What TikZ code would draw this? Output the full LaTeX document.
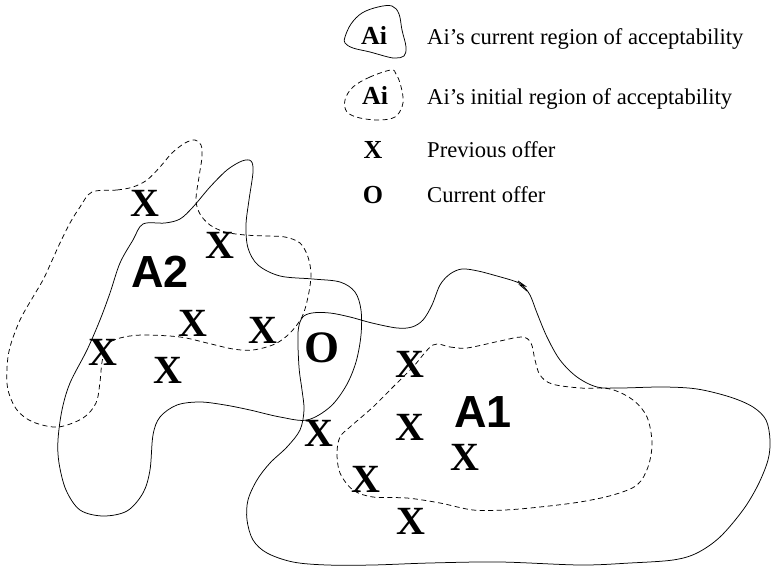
\documentclass[tikz,border=0pt]{standalone}
\usepackage{fontspec}
\setmainfont{Liberation Serif}
\newfontfamily\helv{Liberation Sans}
\begin{document}
\begin{tikzpicture}[x=1pt,y=-1pt,
  region/.style={line width=0.75pt, line join=round},
  initial/.style={region, dash pattern=on 5pt off 3.5pt},
  offer/.style={inner sep=0pt, font=\fontsize{40}{42}\selectfont\bfseries},
  curoffer/.style={inner sep=0pt, font=\fontsize{45}{47}\selectfont\bfseries},
  agent/.style={inner sep=0pt, font=\fontsize{45}{47}\selectfont\helv\bfseries},
  legsym/.style={inner sep=0pt, anchor=base, font=\fontsize{26}{28}\selectfont\bfseries},
  legtext/.style={inner sep=0pt, anchor=base west, font=\fontsize{22.6}{24}\selectfont}]
\useasboundingbox (0,0) rectangle (772,567);

% ---------- legend ----------
\draw[region] plot[smooth cycle, tension=0.6] coordinates {
  (345,37) (351,24) (362,13) (378,7) (392,6) (399,14) (402,30) (406,47)
  (404,56) (396,58) (388,57) (370,52) (353,48) (345,43)};
\node[legsym] (legcur) at (374,45) {Ai};
\node[legtext] (legcurtxt) at (427,45) {Ai’s current region of acceptability};

\draw[initial] plot[smooth cycle, tension=0.6] coordinates {
  (391,70) (370,77) (353,87) (345,100) (347,112) (360,118) (380,120)
  (395,117) (402,107) (403,97) (400,83) (396,74)};
\node[legsym] (legini) at (375,105) {Ai};
\node[legtext] (leginitxt) at (427,105) {Ai’s initial region of acceptability};

\node[legsym] (legx) at (373,159) {X};
\node[legtext] (legxtxt) at (427,158) {Previous offer};
\node[legsym] (lego) at (373,204) {O};
\node[legtext] (legotxt) at (427,203) {Current offer};

% ---------- A2: initial region (dashed) ----------
\draw[initial] plot[smooth cycle, tension=0.55] coordinates {
  (92,192) (117,190) (133,187) (147,180) (160,167) (172,153) (185,143)
  (195,140) (201,145) (202,157) (199,177) (196,200) (200,214) (210,225)
  (225,232) (245,235) (267,236) (285,237) (300,243) (308,257) (311,275)
  (308,297) (302,317) (290,333) (275,344) (253,350) (233,349) (207,343)
  (180,337) (143,335) (120,338) (107,345) (102,362) (100,382) (96,403)
  (83,418) (58,427) (33,422) (17,410) (8,390) (7,368) (10,347) (20,320)
  (33,297) (43,280) (50,265) (60,243) (70,223) (80,207)};

% ---------- A2: current region (solid) ----------
\draw[region] plot[smooth cycle, tension=0.55] coordinates {
  (143,224) (165,223) (180,219) (193,207) (210,187) (227,170) (242,161)
  (251,161) (253,172) (249,200) (246,225) (248,248) (258,265) (280,276)
  (313,279) (340,282) (355,292) (361,310) (361,335) (356,362) (346,386)
  (330,407) (307,420) (280,417) (250,410) (225,405) (200,402) (177,405)
  (160,417) (153,435) (150,470) (143,493) (127,511) (103,516) (80,510)
  (66,490) (59,463) (58,440) (62,410) (70,383) (87,350) (100,320)
  (110,293) (120,263) (133,240)};

% ---------- A1: initial region (dashed) ----------
\draw[initial] plot[smooth cycle, tension=0.55] coordinates {
  (433,345) (450,347) (467,348) (500,341) (522,337) (531,343) (535,360)
  (540,375) (552,384) (580,388) (610,389) (633,400) (647,417) (652,443)
  (648,467) (637,485) (613,495) (580,502) (540,507) (505,510) (473,510)
  (440,503) (407,498) (373,497) (353,490) (340,473) (337,453) (340,437)
  (350,427) (373,407) (393,387) (413,367)};

% ---------- A1: current region (solid) ----------
\draw[region] plot[smooth cycle, tension=0.55] coordinates {
  (298,333) (302,318) (312,313) (330,313) (350,317) (372,323) (397,328)
  (412,327) (423,320) (432,305) (440,285) (450,274) (462,269) (478,271)
  (497,276) (514,281) (522,285) (530,295) (537,313) (547,337) (560,360)
  (577,377) (597,387) (620,388) (663,387) (697,389) (730,397) (753,407)
  (766,420) (770,440) (768,460) (758,485) (743,510) (720,537) (697,553)
  (673,560) (630,563) (580,565) (500,562) (430,563) (373,565) (327,565)
  (293,562) (267,553) (253,540) (247,520) (248,500) (257,480) (270,463)
  (287,447) (300,430) (304,410) (302,390) (299,367)};
% small kink in the stroke of A1
\draw[line width=0.9pt] (518,281) -- (525,286) -- (520,285) -- (527,291);

% ---------- offers ----------
\node[offer] (xa) at (145,203) {X};
\node[offer] (xb) at (220,245) {X};
\node[offer] (xc) at (193,323) {X};
\node[offer] (xd) at (263,330) {X};
\node[offer] (xe) at (103,352) {X};
\node[offer] (xf) at (168,370) {X};
\node[offer] (xg) at (319,433) {X};
\node[offer] (xh) at (410,364) {X};
\node[offer] (xi) at (410,427) {X};
\node[offer] (xj) at (465,457) {X};
\node[offer] (xk) at (366,479) {X};
\node[offer] (xl) at (411,521) {X};
\node[curoffer] (cur) at (322,348) {O};

% ---------- agents ----------
\node[agent] (agenttwo) at (160,272) {A2};
\node[agent] (agentone) at (483,412) {A1};
\end{tikzpicture}
\end{document}
